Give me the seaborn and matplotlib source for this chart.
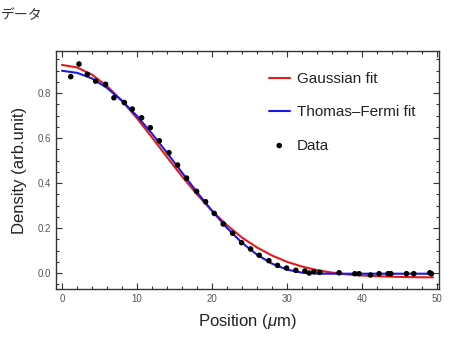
import numpy as np
import pandas as pd
import matplotlib
matplotlib.use("Agg")
import matplotlib.pyplot as plt
import seaborn as sns
from matplotlib.ticker import MultipleLocator, FormatStrFormatter

# --- data ---
data_x = [1.16, 2.27, 3.38, 4.49, 5.82, 6.93, 8.31, 9.38, 10.62, 11.78, 12.98,
          14.27, 15.42, 16.62, 17.96, 19.16, 20.31, 21.51, 22.76, 23.96, 25.16,
          26.31, 27.6, 28.76, 29.96, 31.2, 32.4, 32.98, 33.6, 34.4, 36.98,
          39.07, 39.64, 41.16, 42.31, 43.51, 43.87, 45.96, 46.93, 49.07, 49.29]
data_y = [0.873, 0.929, 0.883, 0.853, 0.839, 0.779, 0.758, 0.729, 0.690, 0.646, 0.588,
          0.535, 0.480, 0.422, 0.363, 0.317, 0.265, 0.218, 0.177, 0.135, 0.107,
          0.079, 0.055, 0.034, 0.022, 0.012, 0.009, 0.000, 0.006, 0.003, 0.001,
          -0.003, -0.003, -0.009, -0.003, -0.003, -0.003, -0.003, -0.003, 0.001, -0.003]

fit_x = [0, 2, 4, 6, 8, 10, 12, 14, 16, 18, 20, 22, 24, 26, 28, 30, 32, 34, 36,
         38, 40, 42, 44, 46, 48, 49.5]
gauss_y = [0.925, 0.914, 0.882, 0.831, 0.765, 0.688, 0.603, 0.516, 0.430, 0.350,
           0.277, 0.213, 0.158, 0.114, 0.078, 0.050, 0.029, 0.013, 0.002, -0.006,
           -0.011, -0.014, -0.0165, -0.018, -0.019, -0.0192]
tf_y = [0.899, 0.890, 0.865, 0.823, 0.766, 0.698, 0.620, 0.535, 0.447, 0.360,
        0.277, 0.201, 0.135, 0.082, 0.042, 0.0155, 0.0017, -0.0027, -0.003, -0.003,
        -0.003, -0.003, -0.003, -0.003, -0.003, -0.003]

x_ticks = [0, 10, 20, 30, 40, 50]
y_ticks = [0.0, 0.2, 0.4, 0.6, 0.8]

sns.set_theme(style="ticks")
plt.rcParams['font.family'] = ['Liberation Sans', 'Noto Sans CJK JP', 'DejaVu Sans']
plt.rcParams['mathtext.fontset'] = 'custom'
plt.rcParams['mathtext.it'] = 'Liberation Sans:italic'
plt.rcParams['mathtext.rm'] = 'Liberation Sans'

fig = plt.figure(figsize=(4.49, 3.37), dpi=100)
ax = fig.add_axes([56/449, 1-289/337, (439-56)/449, (289-51)/337])

fits = pd.DataFrame({"x": fit_x, "gauss": gauss_y, "tf": tf_y})
dat = pd.DataFrame({"x": data_x, "y": data_y})

sns.lineplot(data=fits, x="x", y="gauss", ax=ax, color="#e41a1c", lw=1.5,
             label="Gaussian fit", sort=True)
sns.lineplot(data=fits, x="x", y="tf", ax=ax, color="#1a1ae6", lw=1.5,
             label="Thomas\u2013Fermi fit", sort=True)
sns.scatterplot(data=dat, x="x", y="y", ax=ax, color="black", s=16,
                edgecolor="none", label="Data", zorder=5)

ax.set_xlim(-0.8, 50.3)
ax.set_ylim(-0.071, 0.987)
ax.set_xticks(x_ticks)
ax.set_yticks(y_ticks)
ax.xaxis.set_minor_locator(MultipleLocator(2))
ax.yaxis.set_minor_locator(MultipleLocator(0.05))
ax.yaxis.set_major_formatter(FormatStrFormatter('%.1f'))
ax.tick_params(which='both', direction='in', top=True, right=True,
               labelsize=7, labelcolor='#555555', color='#333333', width=0.8)
ax.tick_params(which='major', length=4.5)
ax.tick_params(which='minor', length=2.5)
for s in ax.spines.values():
    s.set_color('#333333')
    s.set_linewidth(1.0)

ax.set_xlabel("Position ($\\mu$m)", fontsize=12, color='#222222', labelpad=6)
ax.set_ylabel("Density (arb.unit)", fontsize=12, color='#222222', labelpad=8)

leg = ax.legend(loc='upper left', bbox_to_anchor=(0.519, 0.968), frameon=False,
                fontsize=11, handlelength=1.4, handletextpad=0.45,
                labelspacing=1.25)
for t in leg.get_texts():
    t.set_color('#222222')

fig.text(0.003, 0.955, "データ", fontsize=10, family=['Noto Sans CJK JP'],
         color='#333333', va='center', ha='left')

fig.savefig("out.png", dpi=100)
